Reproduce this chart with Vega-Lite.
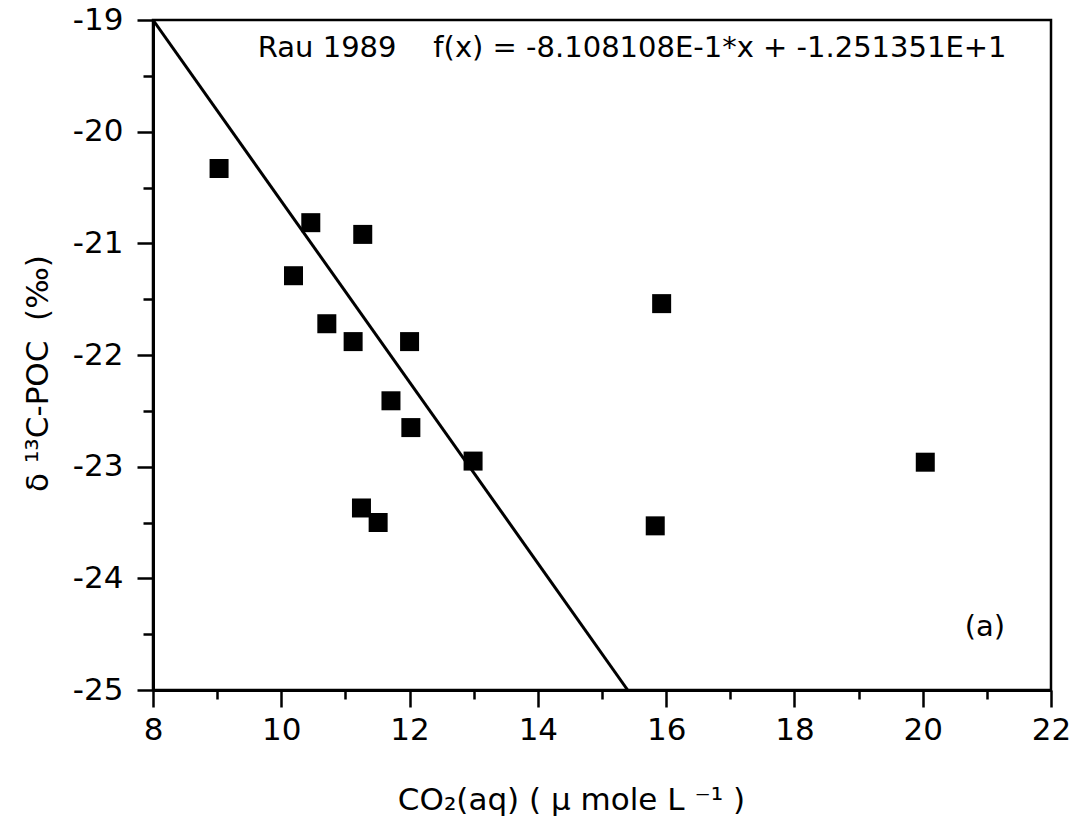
{
  "$schema": "https://vega.github.io/schema/vega-lite/v6.json",
  "width": 898,
  "height": 670,
  "autosize": {"type": "none"},
  "padding": {"left": 153, "top": 20, "right": 24, "bottom": 139},
  "background": "white",
  "config": {
    "view": {"stroke": "black", "strokeWidth": 2.5},
    "font": "DejaVu Sans"
  },
  "datasets": {
    "points": [
      {"co2": 9.03, "d13c": -20.33},
      {"co2": 10.46, "d13c": -20.815},
      {"co2": 11.27, "d13c": -20.92},
      {"co2": 10.19, "d13c": -21.29},
      {"co2": 10.71, "d13c": -21.72},
      {"co2": 11.12, "d13c": -21.88},
      {"co2": 12.0, "d13c": -21.88},
      {"co2": 11.71, "d13c": -22.41},
      {"co2": 12.02, "d13c": -22.65},
      {"co2": 12.99, "d13c": -22.95},
      {"co2": 11.25, "d13c": -23.37},
      {"co2": 11.51, "d13c": -23.5},
      {"co2": 15.93, "d13c": -21.54},
      {"co2": 15.83, "d13c": -23.53},
      {"co2": 20.04, "d13c": -22.96}
    ],
    "fit": [
      {"co2": 8.0, "d13c": -19.0},
      {"co2": 15.4, "d13c": -25.0}
    ],
    "notes": [
      {"co2": 15.47, "d13c": -19.25, "label": "Rau 1989\u00a0\u00a0\u00a0\u00a0f(x) = -8.108108E-1*x + -1.251351E+1"},
      {"co2": 20.97, "d13c": -24.44, "label": "(a)"}
    ]
  },
  "layer": [
    {
      "data": {"name": "fit"},
      "mark": {"type": "line", "color": "black", "strokeWidth": 3, "clip": true},
      "encoding": {
        "x": {
          "field": "co2", "type": "quantitative",
          "scale": {"domain": [8, 22], "nice": false, "zero": false},
          "axis": {
            "title": "CO₂(aq)\u00a0(\u00a0µ\u00a0mole\u00a0L\u00a0⁻¹\u00a0)",
            "titleFont": "DejaVu Sans",
            "titleFontSize": 31,
            "titleFontWeight": "normal",
            "titleColor": "black",
            "titlePadding": 40,
            "titleX": 418,
            "values": [8, 9, 10, 11, 12, 13, 14, 15, 16, 17, 18, 19, 20, 21, 22],
            "labelExpr": "datum.value % 2 === 0 ? '' + datum.value : ''",
            "labelFont": "DejaVu Sans",
            "labelFontSize": 31,
            "labelColor": "black",
            "labelPadding": 8,
            "labelFlush": false,
            "labelOverlap": false,
            "tickSize": {"condition": {"test": "datum.value % 2 === 0", "value": 17}, "value": 9},
            "tickWidth": 2.5,
            "tickColor": "black",
            "domainColor": "black",
            "domainWidth": 3,
            "grid": false
          }
        },
        "y": {
          "field": "d13c", "type": "quantitative",
          "scale": {"domain": [-25, -19], "nice": false, "zero": false},
          "axis": {
            "title": "δ\u00a0¹³C-POC\u00a0\u00a0(‰)",
            "titleFont": "DejaVu Sans",
            "titleFontSize": 31,
            "titleFontWeight": "normal",
            "titleColor": "black",
            "titlePadding": 18,
            "titleY": 353,
            "values": [-25, -24.5, -24, -23.5, -23, -22.5, -22, -21.5, -21, -20.5, -20, -19.5, -19],
            "labelExpr": "datum.value % 1 === 0 ? '' + datum.value : ''",
            "labelFont": "DejaVu Sans",
            "labelFontSize": 31,
            "labelColor": "black",
            "labelPadding": 14,
            "labelFlush": false,
            "labelOverlap": false,
            "tickSize": {"condition": {"test": "datum.value % 1 === 0", "value": 16}, "value": 10},
            "tickWidth": 2.5,
            "tickColor": "black",
            "domainColor": "black",
            "domainWidth": 3,
            "grid": false
          }
        }
      }
    },
    {
      "data": {"name": "points"},
      "mark": {"type": "point", "shape": "square", "filled": true, "color": "black", "size": 361, "opacity": 1},
      "encoding": {
        "x": {"field": "co2", "type": "quantitative"},
        "y": {"field": "d13c", "type": "quantitative"}
      }
    },
    {
      "data": {"name": "notes"},
      "mark": {"type": "text", "font": "DejaVu Sans", "fontSize": 29, "color": "black", "align": "center", "baseline": "middle"},
      "encoding": {
        "x": {"field": "co2", "type": "quantitative"},
        "y": {"field": "d13c", "type": "quantitative"},
        "text": {"field": "label"}
      }
    }
  ]
}
